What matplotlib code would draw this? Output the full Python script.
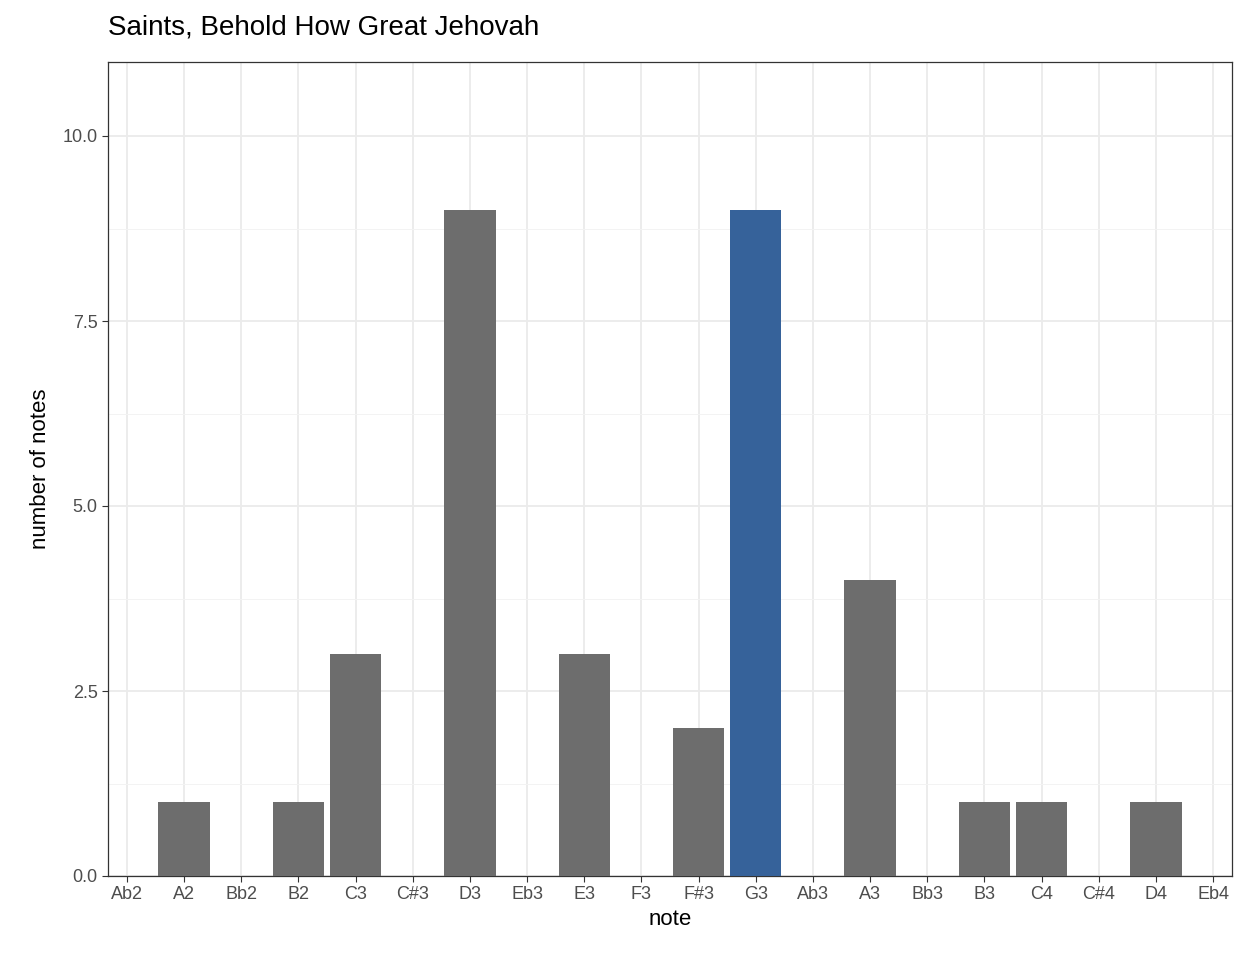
import matplotlib
matplotlib.use("Agg")
import matplotlib.pyplot as plt

notes = ["Ab2","A2","Bb2","B2","C3","C#3","D3","Eb3","E3","F3","F#3","G3","Ab3","A3","Bb3","B3","C4","C#4","D4","Eb4"]
counts = [0,1,0,1,3,0,9,0,3,0,2,9,0,4,0,1,1,0,1,0]
highlight = "G3"

plt.rcParams['font.family'] = ['Liberation Sans', 'DejaVu Sans']
fig = plt.figure(figsize=(12.48, 9.6), dpi=100)
ax = fig.add_axes([108/1248, 1-876/960, (1232-108)/1248, (876-62)/960])
x = list(range(len(notes)))
colors = ["#36629A" if n == highlight else "#6D6D6D" for n in notes]
ax.bar(x, counts, width=0.9, color=colors, zorder=3)
ax.set_xlim(-0.33, len(notes)-1+0.33)
ax.set_ylim(0, 11)
ax.set_xticks(x)
ax.set_xticklabels(notes)
ax.set_yticks([0, 2.5, 5, 7.5, 10])
ax.set_yticklabels(["0.0", "2.5", "5.0", "7.5", "10.0"])
ax.set_yticks([1.25, 3.75, 6.25, 8.75], minor=True)
ax.grid(True, which='major', color='#EBEBEB', linewidth=1.3, zorder=0)
ax.grid(True, which='minor', axis='y', color='#F3F3F3', linewidth=0.7, zorder=0)
for s in ax.spines.values():
    s.set_color('#333333'); s.set_linewidth(0.9)
ax.tick_params(axis='both', which='major', labelsize=13, colors='#333333', length=4)
ax.tick_params(which='minor', length=0)
for lbl in ax.get_xticklabels() + ax.get_yticklabels():
    lbl.set_color('#4D4D4D')
ax.set_xlabel("note", fontsize=16, labelpad=4)
ax.set_ylabel("number of notes", fontsize=16, labelpad=8)
fig.text(108/1248, 1-28/960, "Saints, Behold How Great Jehovah", fontsize=20, va='center', ha='left')
fig.savefig("out.png", dpi=100)
